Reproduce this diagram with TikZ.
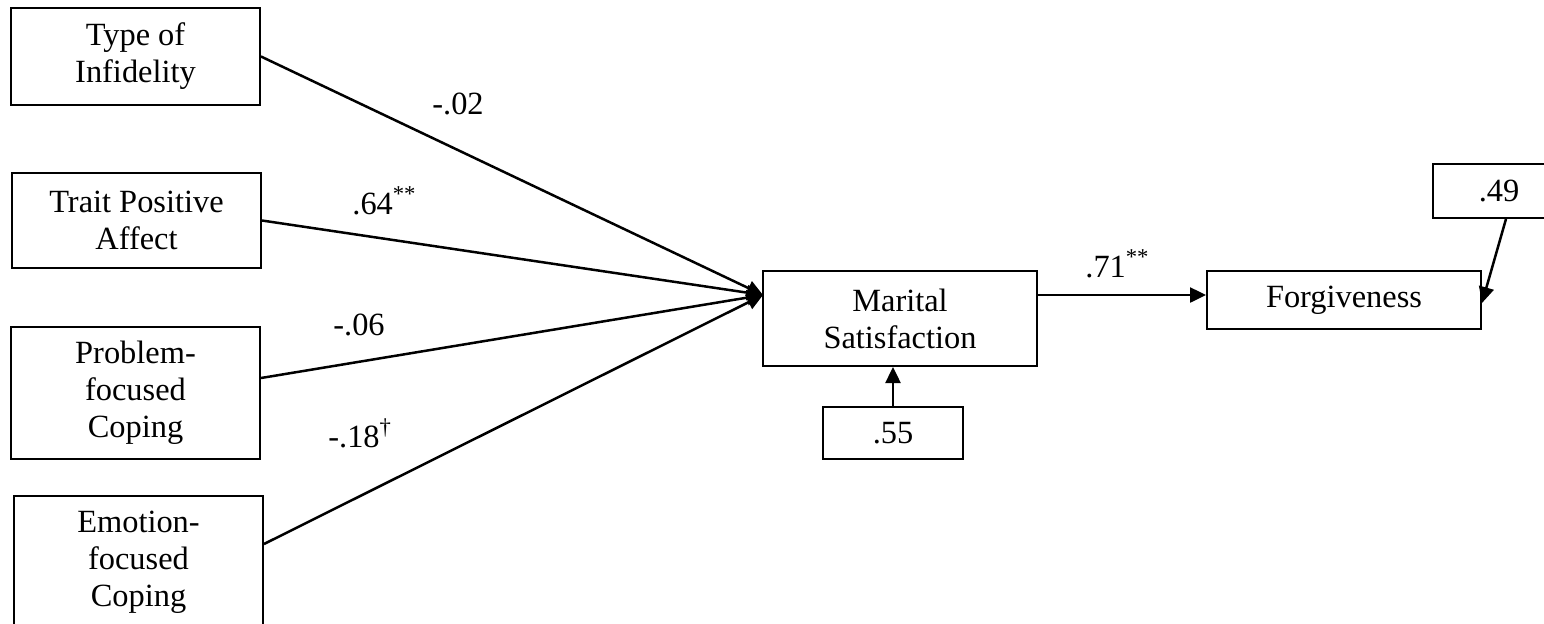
\documentclass[tikz,border=0pt]{standalone}
\usepackage{fontspec}
\setmainfont{Liberation Serif}
\usetikzlibrary{arrows.meta}

\begin{document}
\begin{tikzpicture}[x=0.5pt, y=-0.5pt,
    font=\fontsize{16.2pt}{18.5pt}\selectfont,
    box/.style={draw, line width=1pt, rectangle, align=center, inner sep=0pt},
    link/.style={-{Triangle[length=8pt,width=7.5pt]}, line width=1.25pt},
    coef/.style={anchor=base west, inner sep=0pt}]
    \useasboundingbox (0,0) rectangle (1544,623);
    \clip (0,0) rectangle (1544,623);
    \fill[white] (0,0) rectangle (1544,623);

    % predictors
    \node[box, minimum width=124.5pt, minimum height=48.5pt] (type) at (135.5,56.5) {Type of\\Infidelity};
    \node[box, minimum width=124.5pt, minimum height=47.5pt] (trait) at (136.5,220.5) {Trait Positive\\Affect};
    \node[box, minimum width=124.5pt, minimum height=66pt] (prob) at (135.5,393) {Problem-\\focused\\Coping};
    \node[box, minimum width=124.5pt, minimum height=66pt] (emo) at (138.5,562) {Emotion-\\focused\\Coping};

    % outcomes and errors
    \node[box, minimum width=137pt, minimum height=47.5pt] (marital) at (900,318.5) {Marital\\Satisfaction};
    \node[box, minimum width=137pt, minimum height=29pt] (forgive) at (1344,300) {Forgiveness};
    \node[box, minimum width=70pt, minimum height=26pt] (e55) at (893,433) {.55};
    \node[box, minimum width=66pt, minimum height=27pt] (e49) at (1499,191) {.49};

    \coordinate (hub) at (763,295);

    \draw[link] (type.east) -- (hub);
    \draw[link] (trait.east) -- (hub);
    \draw[link] ([yshift=7.5pt]prob.east) -- (hub);
    \draw[link] ([yshift=9pt]emo.east) -- (hub);
    \draw[link] (marital.east |- hub) -- (forgive.west |- hub);
    \draw[link] (e55.north) -- (e55.north |- marital.south);
    \draw[link] ([xshift=3.5pt]e49.south) -- ([yshift=-1.5pt]forgive.east);

    % path coefficients
    \node[coef] (wtype) at (432,114) {-.02};
    \node[coef] (wtrait) at (352,214) {.64\textsuperscript{**}};
    \node[coef] (wprob) at (333,335) {-.06};
    \node[coef] (wemo) at (328,447) {-.18\textsuperscript{†}};
    \node[coef] (wmar) at (1085,277) {.71\textsuperscript{**}};
\end{tikzpicture}
\end{document}
